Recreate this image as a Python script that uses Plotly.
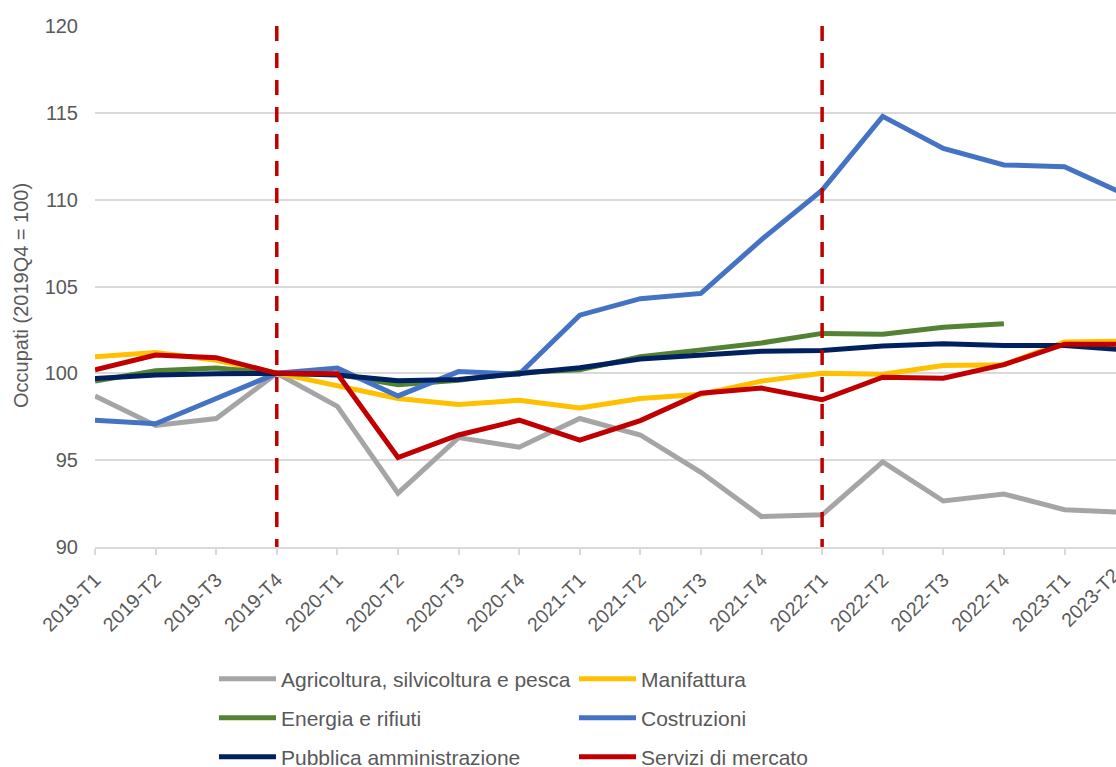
import plotly.graph_objects as go

# Quarters on the x axis
quarters = [
    "2019-T1", "2019-T2", "2019-T3", "2019-T4",
    "2020-T1", "2020-T2", "2020-T3", "2020-T4",
    "2021-T1", "2021-T2", "2021-T3", "2021-T4",
    "2022-T1", "2022-T2", "2022-T3", "2022-T4",
    "2023-T1", "2023-T2",
]

# Employment index by sector (2019Q4 = 100)
agricoltura = [98.7, 97.0, 97.4, 100.0, 98.1, 93.1, 96.3, 95.75, 97.4, 96.45,
               94.3, 91.75, 91.85, 94.9, 92.65, 93.05, 92.15, 92.0]
manifattura = [100.95, 101.2, 100.75, 100.0, 99.3, 98.55, 98.2, 98.45, 98.0, 98.55,
               98.8, 99.55, 100.0, 99.95, 100.45, 100.5, 101.8, 101.85]
energia = [99.55, 100.15, 100.3, 100.0, 99.95, 99.35, 99.6, 100.05, 100.2, 100.95,
           101.35, 101.75, 102.3, 102.25, 102.65, 102.85, None, None]
costruzioni = [97.3, 97.1, 98.55, 100.0, 100.3, 98.7, 100.1, 99.95, 103.35, 104.3,
               104.6, 107.7, 110.55, 114.8, 112.95, 112.0, 111.9, 110.3]
pubblica = [99.7, 99.9, 99.98, 100.0, 99.9, 99.57, 99.64, 99.98, 100.32, 100.83,
            101.05, 101.27, 101.32, 101.58, 101.7, 101.6, 101.6, 101.35]
servizi = [100.2, 101.05, 100.9, 100.0, 99.98, 95.15, 96.45, 97.3, 96.15, 97.28,
           98.85, 99.15, 98.48, 99.78, 99.72, 100.5, 101.68, 101.68]

series_names = [
    "Agricoltura, silvicoltura e pesca", "Manifattura",
    "Energia e rifiuti", "Costruzioni",
    "Pubblica amministrazione", "Servizi di mercato",
]
series_values = [agricoltura, manifattura, energia, costruzioni, pubblica, servizi]
series_colors = ["#A5A5A5", "#FFC000", "#548235", "#4472C4", "#002060", "#C00000"]
legend_ids = ["legend", "legend", "legend2", "legend2", "legend3", "legend3"]

# Quarters marked with vertical reference lines
marked_quarters = ["2019-T4", "2022-T1"]

y_title = "Occupati (2019Q4 = 100)"

FONT = "Arial, Liberation Sans, sans-serif"
TEXT_COLOR = "#595959"
GRID_COLOR = "#D9D9D9"

W, H = 1116, 767
M_L, M_R, M_T, M_B = 95, 0, 26, 220
x_max = 16.85
plot_w = W - M_L - M_R
plot_h = H - M_T - M_B

fig = go.Figure()
for name, vals, color, lg in zip(series_names, series_values, series_colors, legend_ids):
    fig.add_trace(go.Scatter(
        x=quarters, y=vals, name=name, mode="lines",
        line=dict(color=color, width=5),
        legend=lg, connectgaps=False,
    ))

for q in marked_quarters:
    fig.add_shape(
        type="line", xref="x", yref="y",
        x0=quarters.index(q), x1=quarters.index(q), y0=120, y1=90,
        line=dict(color="#C00000", width=3.5, dash="15px,12px"),
        layer="above",
    )

# The last quarter falls just past the right edge of the plot area
last_idx = len(quarters) - 1
fig.add_annotation(
    xref="paper", yref="paper",
    x=last_idx / x_max, y=0,
    text=quarters[-1], showarrow=False, textangle=-45,
    xanchor="right", yanchor="top", yshift=-14, xshift=2,
    font=dict(family=FONT, size=19.5, color=TEXT_COLOR),
)

# Vertical axis title
fig.add_annotation(
    xref="paper", yref="paper",
    x=(21 - M_L) / plot_w, y=(H - M_B - 296) / plot_h,
    text=y_title, showarrow=False, textangle=-90,
    xanchor="center", yanchor="middle",
    font=dict(family=FONT, size=20, color=TEXT_COLOR),
)


def row_y(py):
    return 1 - py / H


legend_common = dict(
    orientation="h", xanchor="left", yanchor="middle",
    xref="container", yref="container",
    x=214 / W,
    font=dict(family=FONT, size=21, color=TEXT_COLOR),
    itemwidth=57, entrywidth=288, entrywidthmode="pixels",
    bgcolor="rgba(0,0,0,0)", itemclick=False, itemdoubleclick=False,
)

fig.update_layout(
    width=W, height=H,
    margin=dict(l=M_L, r=M_R, t=M_T, b=M_B),
    plot_bgcolor="white", paper_bgcolor="white",
    font=dict(family=FONT, color=TEXT_COLOR),
    legend=dict(legend_common, y=row_y(679)),
    legend2=dict(legend_common, y=row_y(718)),
    legend3=dict(legend_common, y=row_y(757)),
    xaxis=dict(
        type="category", categoryorder="array", categoryarray=quarters,
        range=[0, x_max],
        showgrid=False, zeroline=False,
        showline=True, linecolor=GRID_COLOR, linewidth=1.5,
        ticks="outside", ticklen=6, tickcolor=GRID_COLOR, tickwidth=1.5,
        tickangle=-45, ticklabelstandoff=6,
        tickfont=dict(family=FONT, size=19.5, color=TEXT_COLOR),
    ),
    yaxis=dict(
        range=[90, 120], dtick=5, tick0=90,
        showgrid=True, gridcolor=GRID_COLOR, gridwidth=1.5,
        zeroline=False, showline=False,
        ticks="", ticklabelstandoff=16,
        tickfont=dict(family=FONT, size=20, color=TEXT_COLOR),
    ),
)

fig.write_html("out.html")
